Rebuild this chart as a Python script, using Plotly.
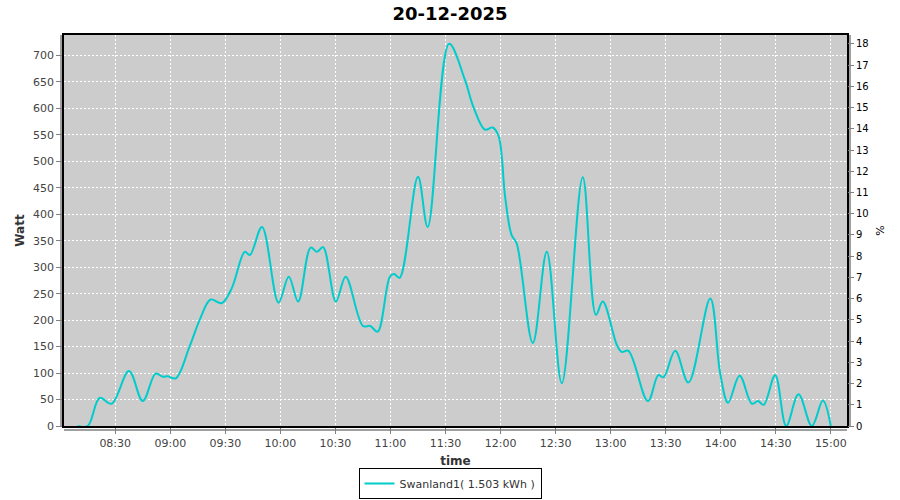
import plotly.graph_objects as go

# readings for 20-12-2025 (time of day, watt)
times = [
    "08:09:30", "08:15:00", "08:21:30", "08:28:00", "08:37:30", "08:45:00",
    "08:52:00", "08:56:00", "08:58:30", "09:03:00", "09:10:30", "09:16:00",
    "09:22:00", "09:28:00", "09:33:30", "09:40:36", "09:43:24", "09:50:00",
    "09:59:00", "10:04:36", "10:09:42", "10:16:30", "10:20:00", "10:23:18",
    "10:30:18", "10:35:36", "10:45:00", "10:49:00", "10:53:00", "10:59:42",
    "11:02:00", "11:05:00", "11:15:00", "11:20:18", "11:32:00", "11:40:36",
    "11:45:12", "11:51:30", "11:55:42", "11:59:00", "12:02:30", "12:06:00",
    "12:08:48", "12:17:36", "12:25:12", "12:33:24", "12:44:48", "12:52:00",
    "12:55:42", "13:03:24", "13:06:00", "13:09:42", "13:20:18", "13:26:00",
    "13:28:48", "13:35:12", "13:42:24", "13:54:18", "13:59:42", "14:04:00",
    "14:10:18", "14:17:00", "14:20:18", "14:23:24", "14:29:42", "14:35:42",
    "14:42:24", "14:49:42", "14:55:42", "15:00:00",
]
watt = [
    0, 0, 53, 42, 104, 47,
    99, 93, 94, 90, 150, 200,
    239, 232, 260, 329, 323, 376,
    233, 282, 235, 337, 329, 338,
    235, 282, 189, 189, 178, 282,
    287, 280, 471, 376, 722, 654,
    603, 560, 564, 547, 433, 361,
    345, 157, 329, 81, 470, 210,
    235, 153, 140, 142, 47, 96,
    92, 142, 82, 241, 100, 44,
    95, 42, 47, 40, 96, 0,
    60, 0, 48, 0,
]
day = "2025-12-20"
series_name = "Swanland1( 1.503 kWh )"
chart_title = "20-12-2025"

x = [day + " " + t for t in times]

fig = go.Figure()
fig.add_trace(go.Scatter(x=x, y=watt, mode="lines", name=series_name,
                         line=dict(color="#00cccc", width=2, shape="spline"),
                         showlegend=True))
# empty trace so the right hand % axis gets drawn
fig.add_trace(go.Scatter(x=[], y=[], yaxis="y2", showlegend=False, hoverinfo="skip"))

tick_font = dict(family="DejaVu Sans", size=11, color="#444444")

fig.update_layout(
    width=900, height=500,
    margin=dict(l=64, r=53, t=35, b=74, autoexpand=False),
    paper_bgcolor="white", plot_bgcolor="#cccccc",
    font=dict(family="DejaVu Sans", size=11, color="#444444"),
    title=dict(text="<b>" + chart_title + "</b>", x=0.5, xanchor="center",
               y=1 - 14 / 500, yanchor="middle",
               font=dict(family="DejaVu Sans", size=18, color="black")),
    showlegend=True,
    legend=dict(orientation="h", x=0.493, xanchor="center", y=-73 / 391, yanchor="bottom",
                bordercolor="black", borderwidth=1, bgcolor="white", itemwidth=30,
                font=dict(family="DejaVu Sans", size=11, color="#333333")),
    xaxis=dict(type="date", range=[day + " 08:02:05", day + " 15:08:50"],
               tickformat="%H:%M", dtick=1800000, tick0=day + " 08:00",
               showgrid=True, gridcolor="white", griddash="2px,2px", gridwidth=1,
               showline=True, linecolor="black", linewidth=1.5, mirror=True,
               ticks="outside", ticklen=6, tickcolor="#808080",
               tickfont=tick_font, zeroline=False,
               title=dict(text="<b>time</b>", standoff=8,
                          font=dict(family="DejaVu Sans", size=12, color="#333333"))),
    yaxis=dict(range=[0, 738.7], dtick=50, tick0=0,
               showgrid=True, gridcolor="white", griddash="2px,2px", gridwidth=1,
               showline=True, linecolor="black", linewidth=1.5, mirror=True,
               ticks="outside", ticklen=6, tickcolor="#808080",
               tickfont=tick_font, zeroline=False,
               title=dict(text="<b>Watt</b>", standoff=6,
                          font=dict(family="DejaVu Sans", size=12, color="#333333"))),
    yaxis2=dict(range=[0, 18.42], dtick=1, tick0=0, overlaying="y", side="right",
                showgrid=False, zeroline=False, showline=False,
                ticks="outside", ticklen=6, tickcolor="#808080",
                tickfont=dict(family="DejaVu Sans", size=10, color="black"),
                title=dict(text="%", standoff=8,
                           font=dict(family="DejaVu Sans", size=11, color="black"))),
)

# JFreeChart style offset axis lines
gray = "#808080"
fig.add_shape(type="line", xref="paper", yref="paper", x0=-3 / 783, x1=-3 / 783, y0=0, y1=1,
              line=dict(color=gray, width=1.5))
fig.add_shape(type="line", xref="paper", yref="paper", x0=1 + 3 / 783, x1=1 + 3 / 783, y0=0, y1=1,
              line=dict(color=gray, width=1.5))
fig.add_shape(type="line", xref="paper", yref="paper", x0=0, x1=1, y0=-4 / 391, y1=-4 / 391,
              line=dict(color=gray, width=1.5))

# drop the default page margin so the 900x500 figure sits at the window origin
fig.write_html("out.html", config={"displayModeBar": False},
               post_script="document.body.style.margin='0';")
